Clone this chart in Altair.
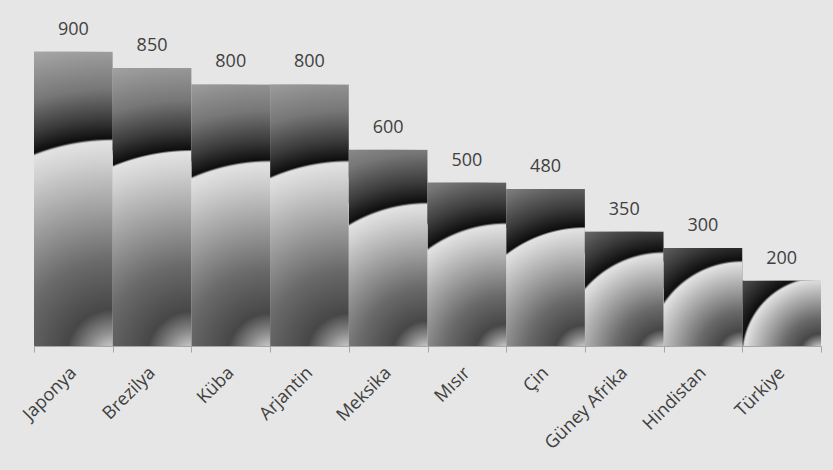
import math
import altair as alt
import pandas as pd

categories = ["Japonya", "Brezilya", "Küba", "Arjantin", "Meksika", "Mısır", "Çin",
              "Güney Afrika", "Hindistan", "Türkiye"]
values = [900, 850, 800, 800, 600, 500, 480, 350, 300, 200]

df = pd.DataFrame({"country": categories, "value": values})

W, H = 787, 327
Y_MAX = 1000
BAND = W / len(categories)
PX = H / Y_MAX

# gradient look: inner part relative to the bar diagonal, outer part in pixels
SHIFT = 10          # centre sits a little below the bar's bottom-right corner
ARC = 0.68          # arc position as a fraction of the diagonal
INNER = [(0.00, "#c2c2c2"), (0.05, "#8a8a8a"), (0.12, "#474747"), (0.28, "#6a6a6a"),
         (0.45, "#a0a0a0"), (0.60, "#cfcfcf")]
OUTER = [(0, "#0d0d0d"), (20, "#3c3c3c"), (50, "#777777"), (100, "#aaaaaa")]


def corner_gradient(v):
    w, h = BAND, v * PX
    s = max(w, h)
    ox, oy = (s - w) / 2, (s - h) / 2
    cx, cy = (ox + w) / s, (oy + h + SHIFT) / s
    diag = math.hypot(w, h)
    r_arc = SHIFT + ARC * diag
    r_out = r_arc + OUTER[-1][0]
    stops = [{"offset": (SHIFT + t * diag) / r_out, "color": c} for t, c in INNER]
    stops.append({"offset": (r_arc - 2) / r_out, "color": "#e3e3e3"})
    stops += [{"offset": (r_arc + d) / r_out, "color": c} for d, c in OUTER]
    return {
        "gradient": "radial",
        "x1": cx, "y1": cy, "r1": 0,
        "x2": cx, "y2": cy, "r2": r_out / s,
        "stops": stops,
    }


x_enc = alt.X(
    "country:N",
    scale=alt.Scale(domain=categories, paddingInner=0, paddingOuter=0),
    axis=alt.Axis(
        title=None, labelAngle=-45, labelAlign="right", labelBaseline="middle",
        labelPadding=18, tickBand="extent", tickSize=6, tickColor="#a6a6a6",
        domainColor="#a6a6a6", labelFont="Open Sans", labelFontSize=18,
        labelColor="#404040", labelOverlap=False, labelLimit=200, grid=False,
    ),
)
y_enc = alt.Y("value:Q", scale=alt.Scale(domain=[0, Y_MAX]), axis=None)

base = alt.Chart(df).encode(x=x_enc, y=y_enc)

layers = []
for cat, val in zip(categories, values):
    layers.append(
        base.transform_filter(alt.datum.country == cat).mark_bar(color=corner_gradient(val))
    )

text = base.mark_text(
    dy=-22, baseline="middle", align="center", font="Open Sans", fontSize=18, color="#404040"
).encode(text="value:Q")
layers.append(text)

chart = alt.layer(*layers).properties(
    width=W, height=H, autosize="none",
    padding={"left": 34, "right": 12, "top": 19, "bottom": 124},
    background="#e6e6e6",
).configure_view(stroke=None)

chart.save("out.html", embed_options={"renderer": "svg", "actions": False})
